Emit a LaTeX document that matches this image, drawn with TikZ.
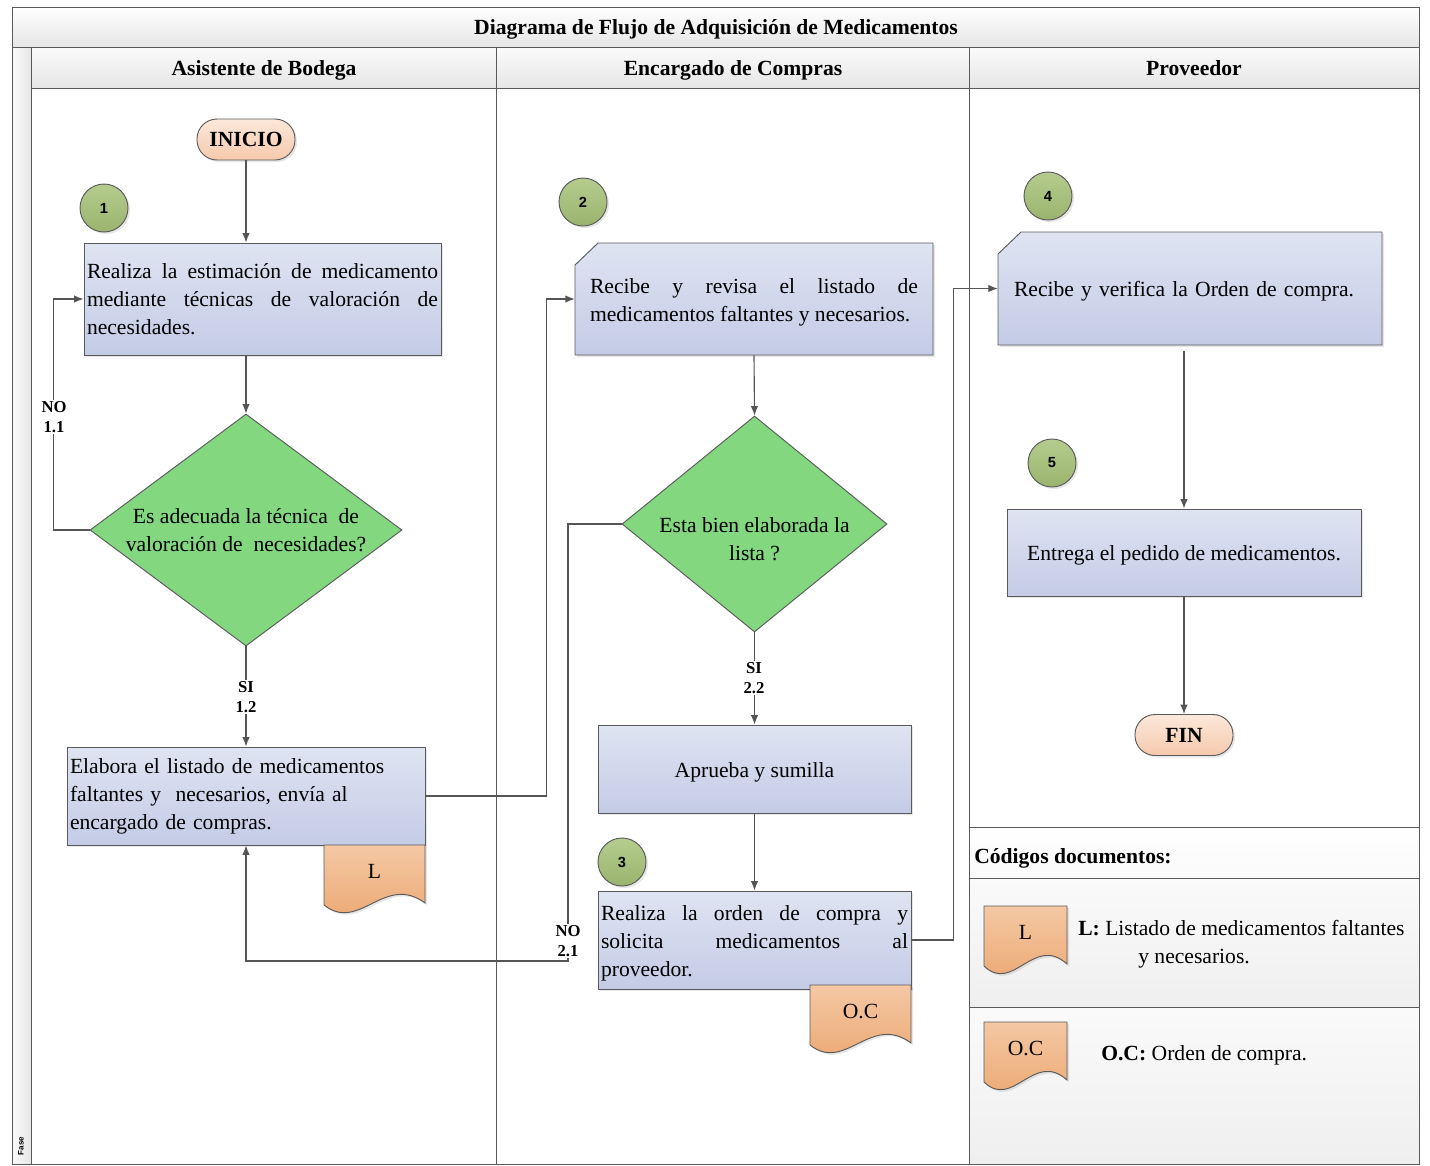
\documentclass[tikz,border=0pt]{standalone}
\usepackage{fontspec}
\setmainfont{Liberation Serif}
\newfontfamily\arialfont{Liberation Sans}
\usetikzlibrary{shapes.geometric,shadows,arrows.meta,calc}
\newdimen\pxu \pxu=0.75pt
\newcommand\bodyfont{\fontsize{16.2}{21}\selectfont}
\definecolor{bxt}{HTML}{DFE4F2}
\definecolor{bxb}{HTML}{C4CBE6}
\definecolor{dgreen}{HTML}{82D77F}
\definecolor{circt}{HTML}{B5CC8E}
\definecolor{circb}{HTML}{9AB46E}
\definecolor{termt}{HTML}{FCE8DA}
\definecolor{termb}{HTML}{F5C9AC}
\definecolor{doct}{HTML}{F4C8A4}
\definecolor{docb}{HTML}{EBA46C}
\definecolor{hdrt}{HTML}{FAFAFA}
\definecolor{hdrb}{HTML}{E6E6E6}
\definecolor{lnc}{HTML}{555555}
\definecolor{bdr}{HTML}{5A5A5A}
\definecolor{lgbg}{HTML}{EFEFEF}
\newcommand\docshape[6]{%
  \draw[docst] (#2,-#3) -- (#4,-#3) -- (#4,{-(#5-10)})
    .. controls ({#2+0.6*(#4-#2)},{-(#5-40)}) and ({#2+0.35*(#4-#2)},{-(#5+20)}) .. (#2,{-(#5-8)}) -- cycle;
  \node[font=\bodyfont] (#1) at ({(#2+#4)/2},{-(#3+26)}) {#6};
}
\begin{document}
\begin{tikzpicture}[x=0.75pt,y=0.75pt,
  frame/.style={draw=bdr, line width=0.75pt},
  shad/.style={drop shadow={shadow xshift=1.5pt,shadow yshift=-1.5pt,opacity=0.2}},
  procbox/.style={rectangle, draw=bdr, line width=0.7pt, top color=bxt, bottom color=bxb, inner sep=3\pxu, font=\bodyfont, shad},
  cardfill/.style={draw=bdr, line width=0.7pt, top color=bxt, bottom color=bxb, shad},
  cardnode/.style={rectangle, draw=none, inner sep=3\pxu, font=\bodyfont},
  decision/.style={diamond, draw=bdr, line width=0.7pt, fill=dgreen, inner sep=0pt, align=center, font=\bodyfont},
  term/.style={rectangle, rounded corners=15pt, draw=bdr, line width=0.7pt, top color=termt, bottom color=termb, minimum width=98\pxu, minimum height=41\pxu, font=\bodyfont\bfseries, shad},
  stepnum/.style={circle, draw=bdr, line width=0.7pt, top color=circt, bottom color=circb, minimum size=48\pxu, inner sep=0pt, font=\arialfont\bfseries\fontsize{11}{12}\selectfont, shad},
  docst/.style={draw=bdr, line width=0.7pt, top color=doct, bottom color=docb, shad},
  conn/.style={draw=lnc, line width=0.85pt},
  arr/.style={conn, -{Latex[length=7pt,width=5.5pt]}},
  lab/.style={fill=white, inner sep=1.1pt, align=center, font=\bfseries\fontsize{12.5}{15}\selectfont},
  hdr/.style={font=\bodyfont\bfseries, anchor=base},
  lower/.style={text height=16pt},
]
\useasboundingbox (0,0) rectangle (1430,-1165);
% ---------- pool / lanes ----------
\fill[top color=white, bottom color=hdrb] (12,-7) rectangle (1419,-47);
\fill[top color=hdrt, bottom color=hdrb] (31,-47) rectangle (1419,-88);
\fill[left color=hdrt, right color=hdrb] (12,-47) rectangle (31,-1164);
\fill[top color=white, bottom color=hdrt] (969,-827) rectangle (1419,-878);
\fill[top color=hdrt, bottom color=lgbg] (969,-878) rectangle (1419,-1007);
\fill[top color=hdrt, bottom color=lgbg] (969,-1007) rectangle (1419,-1164);
\draw[frame] (12,-7) rectangle (1419,-1164);
\draw[frame] (12,-47) -- (1419,-47);
\draw[frame] (31,-47) -- (31,-1164);
\draw[frame] (31,-88) -- (1419,-88);
\draw[frame] (496,-47) -- (496,-1164);
\draw[frame] (969,-47) -- (969,-1164);
\draw[frame] (969,-827) -- (1419,-827);
\draw[frame] (969,-878) -- (1419,-878);
\draw[frame] (969,-1007) -- (1419,-1007);
\node[hdr] (title) at (716,-34) {Diagrama de Flujo de Adquisición de Medicamentos};
\node[hdr] (h1) at (264,-75) {Asistente de Bodega};
\node[hdr] (h2) at (733,-75) {Encargado de Compras};
\node[hdr] (h3) at (1194,-75) {Proveedor};
\node[rotate=90, font=\arialfont\bfseries\fontsize{6}{7}\selectfont, anchor=west] (fase) at (21,-1160) {Fase};
% ---------- lane 1 ----------
\node[term] (ini) at (246,-139.5) {INICIO};
\node[stepnum] (c1) at (104,-208) {1};
\node[procbox, minimum width=357\pxu, minimum height=112\pxu, text width=351\pxu, align=justify] (b1) at (262.5,-299)
  {Realiza la estimación de medicamento\linebreak mediante técnicas de valoración de\linebreak necesidades.};
\node[decision, aspect=1.345, minimum width=312\pxu, minimum height=232\pxu] (d1) at (246,-530)
  {Es adecuada la técnica \ de\\valoración de \ necesidades?};
\node[procbox, minimum width=358\pxu, minimum height=98\pxu, text width=352\pxu, align=left] (b2) at (246,-796)
  {Elabora el listado de medicamentos\\faltantes y \ necesarios, envía al\\encargado de compras.};
\docshape{docL}{324}{845}{425}{913}{L}
% ---------- lane 2 ----------
\node[stepnum] (c2) at (583,-202) {2};
\draw[cardfill] (598,-243) -- (933,-243) -- (933,-355) -- (575,-355) -- (575,-265) -- cycle;
\node[cardnode, lower, minimum width=358\pxu, minimum height=112\pxu, text width=328\pxu, align=justify] (b3) at (754,-299)
  {Recibe y revisa el listado de\linebreak \mbox{medicamentos faltantes y necesarios.}};
\node[decision, aspect=1.227, minimum width=265\pxu, minimum height=216\pxu] (d2) at (754.5,-524) {};
\node[font=\bodyfont, align=center] (d2t) at (754.5,-539) {Esta bien elaborada la\\lista ?};
\node[procbox, lower, minimum width=313\pxu, minimum height=88\pxu, align=center] (b4) at (754.5,-769) {Aprueba y sumilla};
\node[stepnum] (c3) at (622,-862) {3};
\node[procbox, lower, minimum width=313\pxu, minimum height=98\pxu, text width=307\pxu, align=justify] (b5) at (754.5,-940)
  {Realiza la orden de compra y\linebreak solicita medicamentos al\linebreak proveedor.};
\docshape{docOC}{810}{985}{911}{1053}{O.C}
% ---------- lane 3 ----------
\node[stepnum] (c4) at (1048,-196) {4};
\draw[cardfill] (1021,-232) -- (1382,-232) -- (1382,-345) -- (998,-345) -- (998,-254) -- cycle;
\node[cardnode, lower, minimum width=384\pxu, minimum height=113\pxu, text width=352\pxu, align=left] (b6) at (1190,-288.5)
  {Recibe y verifica la Orden de compra.};
\node[stepnum] (c5) at (1052,-463) {5};
\node[procbox, lower, minimum width=354\pxu, minimum height=87\pxu, align=center] (b7) at (1184,-552.5) {Entrega el pedido de medicamentos.};
\node[term] (fin) at (1184,-735) {FIN};
% ---------- legend ----------
\node[font=\bodyfont\bfseries, anchor=west, inner sep=0pt] (legt) at (974,-858) {Códigos documentos:};
\docshape{legL}{984}{906}{1067}{974}{L}
\node[font=\bodyfont, anchor=north west, align=left, inner sep=0pt] (legLt) at (1078,-920)
  {\textbf{L:} Listado de medicamentos faltantes\\\hspace*{45pt}y necesarios.};
\docshape{legOC}{984}{1022}{1067}{1090}{O.C}
\node[font=\bodyfont, anchor=west, inner sep=0pt] (legOCt) at (1101,-1055) {\textbf{O.C:} Orden de compra.};
% ---------- connectors ----------
\draw[arr] (ini.south) -- (ini.south |- b1.north);
\draw[arr] (d1.north |- b1.south) -- (d1.north);
\draw[arr] (d1.west) -- ++(-36,0) |- (b1.west);
\node[lab] (no11) at (54,-417) {NO\\1.1};
\draw[arr] (d1.south) -- (b2.north);
\node[lab] (si12) at (246,-697) {SI\\1.2};
\draw[arr] (b2.east) -- ++(121,0) |- (b3.west);
\draw[arr] (b3.south) -- (d2.north);
\draw[arr] (d2.south) -- (b4.north);
\node[lab] (si22) at (754,-678) {SI\\2.2};
\draw[arr] (b4.south) -- (b5.north);
\coordinate (k21) at (568,-961);
\draw[arr] (d2.west) -| (k21) -| (b2.south);
\node[lab] (no21) at (568,-941) {NO\\2.1};
\draw[arr] (b5.east) -- ++(42,0) |- (b6.west);
\draw[arr] ($(b7.north |- b6.south)+(0,-6)$) -- (b7.north);
\draw[arr] (b7.south) -- (fin.north);
\end{tikzpicture}
\end{document}
